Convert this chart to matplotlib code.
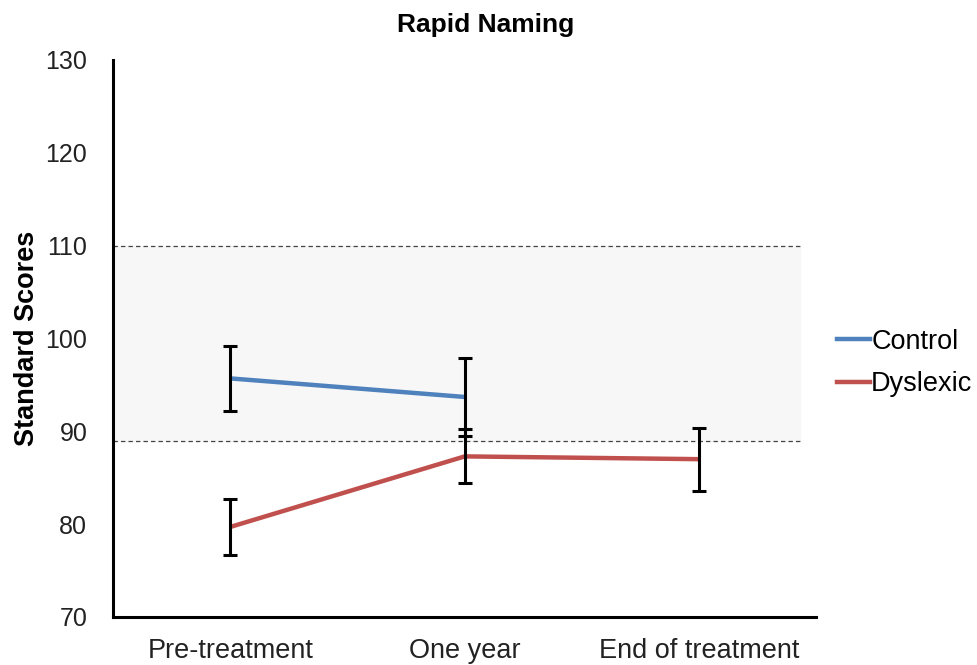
import numpy as np
import matplotlib
matplotlib.use('Agg')
import matplotlib.pyplot as plt
from matplotlib.lines import Line2D

plt.rcParams['font.family'] = ['Liberation Sans', 'DejaVu Sans']

# data
timepoints = ['Pre-treatment', 'One year', 'End of treatment']
control_mean = [95.7, 93.7]
control_err = [3.5, 4.2]
dyslexic_mean = [79.7, 87.3, 87.0]
dyslexic_err = [3.0, 2.9, 3.4]
norm_band = (89.0, 110.0)
y_ticks = [70, 80, 90, 100, 110, 120, 130]

blue = '#4f81bd'
red = '#c0504d'

fig = plt.figure(figsize=(9.77, 6.65), dpi=100, facecolor='white')
ax = fig.add_axes([0.1157, 0.0722, 0.72, 0.8376])

x = np.arange(len(timepoints))
band_right = 2.43

# normal range band
ax.fill_between([-0.5, band_right], norm_band[0], norm_band[1],
                color='#f7f7f7', zorder=0)
for yv in norm_band:
    ax.plot([-0.5, band_right], [yv, yv], color='#444444', lw=0.9,
            ls=(0, (3.5, 2.5)), zorder=1)

ax.plot(x[:len(control_mean)], control_mean, color=blue, lw=3.2, zorder=2,
        solid_capstyle='butt')
ax.plot(x, dyslexic_mean, color=red, lw=3.2, zorder=2, solid_capstyle='butt')

ax.errorbar(x[:len(control_mean)], control_mean, yerr=control_err, fmt='none',
            ecolor='black', elinewidth=2.2, capsize=5, capthick=2.2, zorder=3)
ax.errorbar(x, dyslexic_mean, yerr=dyslexic_err, fmt='none',
            ecolor='black', elinewidth=2.2, capsize=5, capthick=2.2, zorder=3)

ax.set_xlim(-0.5, 2.5)
ax.set_ylim(70, 130)
ax.set_yticks(y_ticks)
ax.set_xticks(x)
ax.set_xticklabels(timepoints)
ax.tick_params(axis='both', length=0, colors='#222222')
ax.tick_params(axis='y', labelsize=18, pad=18.5)
ax.tick_params(axis='x', labelsize=19.5, pad=15)

for side in ['top', 'right']:
    ax.spines[side].set_visible(False)
for side in ['left', 'bottom']:
    ax.spines[side].set_linewidth(2.2)
    ax.spines[side].set_color('black')

ax.set_ylabel('Standard Scores', fontsize=19.5, fontweight='bold', labelpad=4)

fig.text(0.497, 0.962, 'Rapid Naming', ha='center', va='center',
         fontsize=19, fontweight='bold')

handles = [Line2D([], [], color=blue, lw=3.2),
           Line2D([], [], color=red, lw=3.2)]
fig.legend(handles, ['Control', 'Dyslexic'], loc='center left',
           bbox_to_anchor=(0.857, 0.454), frameon=False, fontsize=19.5,
           handlelength=1.2, handletextpad=0.05, labelspacing=0.6,
           borderaxespad=0, borderpad=0)

plt.savefig('out.png', dpi=100)
